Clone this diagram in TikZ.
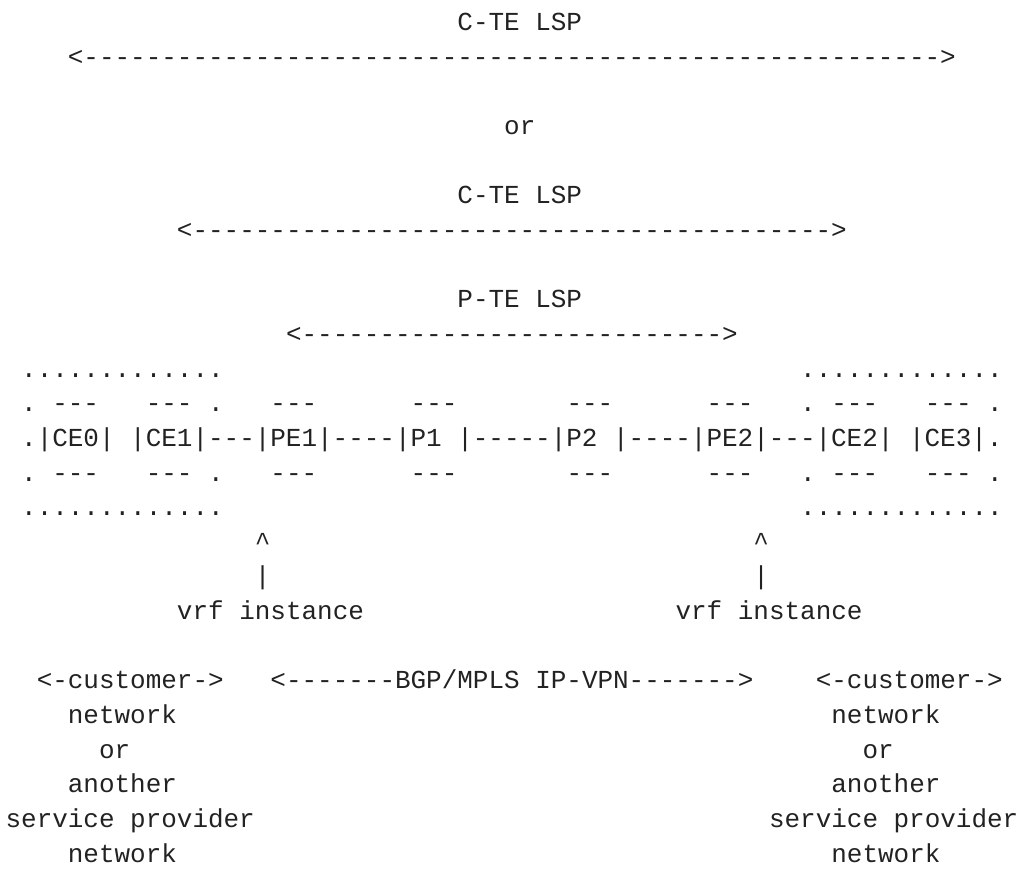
\documentclass[tikz,border=0pt]{standalone}
\usepackage{fontspec}
\setmonofont{Liberation Mono}
\usepackage{tikz}
\definecolor{inkgray}{HTML}{222222}

\begin{document}
\begin{tikzpicture}[x=11.685pt, y=-25.99pt,
    asc/.style={inner sep=0pt, outer sep=0pt, anchor=base west, text=inkgray,
                font=\ttfamily\fontsize{19.47pt}{26pt}\selectfont}]

            \useasboundingbox (-0.3594,-0.880) rectangle (65.363,24.370);

            % LSP arrows
            \node[asc] (cteA) at (29,0) {C-TE LSP};
            \node[asc] (cteAarr) at (4,1) {<-------------------------------------------------------{}>};
            \node[asc] (orA) at (32,3) {or};
            \node[asc] (cteB) at (29,5) {C-TE LSP};
            \node[asc] (cteBarr) at (11,6) {<-----------------------------------------{}>};
            \node[asc] (pte) at (29,8) {P-TE LSP};
            \node[asc] (ptearr) at (18,9) {<---------------------------{}>};

            % sites and routers
            \node[asc] (siteLtop) at (1,10) {.............};
            \node[asc] (siteRtop) at (51,10) {.............};
            \foreach \r/\nm in {11/up,13/dn}{
              \node[asc] (dotA\nm) at (1,\r) {.};
              \node[asc] (ceA\nm) at (3,\r) {---};
              \node[asc] (ceB\nm) at (9,\r) {---};
              \node[asc] (dotB\nm) at (13,\r) {.};
              \node[asc] (peA\nm) at (17,\r) {---};
              \node[asc] (pA\nm) at (26,\r) {---};
              \node[asc] (pB\nm) at (36,\r) {---};
              \node[asc] (peB\nm) at (45,\r) {---};
              \node[asc] (dotC\nm) at (51,\r) {.};
              \node[asc] (ceC\nm) at (53,\r) {---};
              \node[asc] (ceD\nm) at (59,\r) {---};
              \node[asc] (dotD\nm) at (63,\r) {.};
            }
            \node[asc] (chain) at (1,12) {.|CE0| |CE1|---|PE1|----|P1 |-----|P2 |----|PE2|---|CE2| |CE3|.};
            \node[asc] (siteLbot) at (1,14) {.............};
            \node[asc] (siteRbot) at (51,14) {.............};

            % vrf pointers
            \node[asc] (caretL) at (16,15) {\textasciicircum};
            \node[asc] (caretR) at (48,15) {\textasciicircum};
            \node[asc] (barL) at (16,16) {|};
            \node[asc] (barR) at (48,16) {|};
            \node[asc] (vrfL) at (11,17) {vrf instance};
            \node[asc] (vrfR) at (43,17) {vrf instance};

            % legend
            \node[asc] (custL) at (2,19) {<-customer->};
            \node[asc] (vpn) at (17,19) {<-------BGP/MPLS IP-VPN------->};
            \node[asc] (custR) at (52,19) {<-customer->};
            \foreach \r/\txt/\c/\nm in {20/network/4/a, 21/or/6/b, 22/another/4/c,
                                        23/service provider/0/d, 24/network/4/e}{
              \node[asc] (left\nm) at (\c,\r) {\txt};
              \node[asc] (right\nm) at ({\c+49},\r) {\txt};
            }

\end{tikzpicture}
\end{document}
